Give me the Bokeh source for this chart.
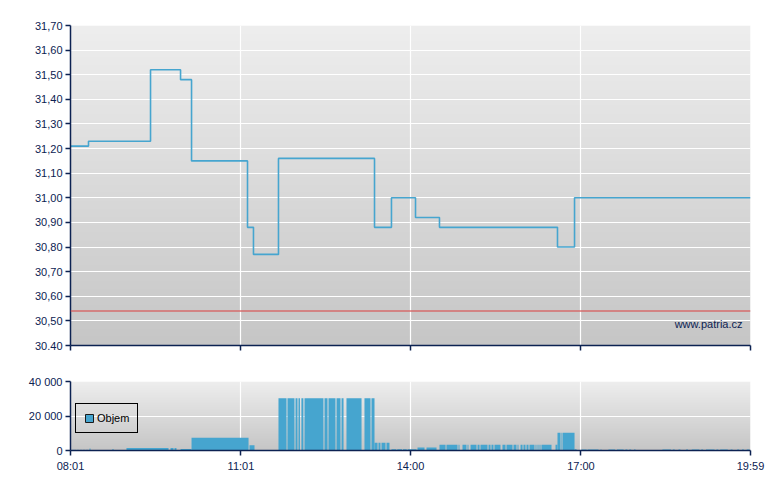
import numpy as np
from bokeh.plotting import figure
from bokeh.layouts import column
from bokeh.models import Range1d, FixedTicker, Span, Label, Legend, LegendItem
from bokeh.embed import file_html
from bokeh.resources import INLINE

# ---- data (time = minutes after 08:01) ----
x_tick_minutes = [0, 180, 359, 539, 718]
x_tick_labels = ["08:01", "11:01", "14:00", "17:00", "19:59"]

price_change_minutes = [0, 19, 84.5, 116.2, 127.8, 186.9, 193.2, 219.6, 321.0,
                        338.9, 364.3, 389.6, 514.2, 532.2, 718]
price_values = [31.21, 31.23, 31.52, 31.48, 31.15, 30.88, 30.77, 31.16, 30.88,
                31.00, 30.92, 30.88, 30.80, 31.00, 31.00]
prev_close = 30.54

price_ticks = [30.4, 30.5, 30.6, 30.7, 30.8, 30.9, 31.0, 31.1, 31.2, 31.3, 31.4, 31.5, 31.6, 31.7]
price_tick_labels = ["30.40", "30,50", "30,60", "30,70", "30,80", "30,90", "31,00",
                     "31,10", "31,20", "31,30", "31,40", "31,50", "31,60", "31,70"]

vol_ticks = [0, 20000, 40000]
vol_tick_labels = ["0", "20 000", "40 000"]

vol_start = [2.1, 4.2, 7.4, 10.6, 13.7, 16.9, 20.1, 44.3,
             59.1, 105.6, 109.8, 116.2, 127.8, 189.0,
             219.6, 229.1, 237.6, 240.7, 243.8, 247.1, 268.2, 272.4, 280.9, 286.2, 291.4, 310.4, 317.8,
             321.0, 325.2, 328.4, 333.7,
             338.9, 345.0, 351.0, 356.0,
             366.4, 375.9,
             389.6, 397.0, 409.7, 413.9, 419.2, 422.4, 429.8, 432.9, 441.4, 444.5, 447.7, 456.1,
             460.4, 467.8, 472.0, 475.2, 478.3, 481.5, 484.7, 491.0, 493.1, 495.2, 497.3, 512.1,
             514.2, 518.4, 520.0,
             532.2,
             539.6, 546.0, 559.6, 568.0, 577.0, 586.0, 590.0, 595.0, 625.0, 636.0, 642.0, 650.0,
             656.0, 666.0, 671.0, 682.0, 686.0, 697.0, 704.0, 709.0, 714.0]
vol_end = [3.2, 5.3, 8.4, 11.6, 14.8, 18.0, 21.1, 45.4,
           103.5, 108.8, 111.9, 127.8, 188.0, 194.3,
           228.1, 236.5, 239.7, 242.3, 245.9, 267.1, 271.4, 279.8, 285.1, 288.3, 307.3, 316.8, 321.0,
           324.2, 327.3, 332.6, 336.8,
           344.0, 350.0, 355.0, 365.3,
           373.8, 386.5,
           396.0, 408.6, 410.7, 418.1, 420.2, 428.7, 431.9, 440.3, 443.5, 446.6, 454.0, 459.3,
           466.7, 470.9, 473.0, 477.3, 480.4, 483.6, 489.9, 492.0, 494.2, 496.3, 507.9, 514.2,
           517.4, 519.5, 532.2,
           534.3,
           545.0, 557.5, 560.7, 575.0, 584.0, 588.0, 592.0, 596.6, 634.0, 638.0, 644.0, 652.0,
           664.0, 668.0, 680.0, 684.0, 694.0, 699.0, 706.0, 711.0, 717.0]
vol_value = [500, 500, 500, 500, 500, 500, 1200, 900,
             1500, 1500, 1500, 800, 7400, 3000,
             30300, 30300, 30300, 30300, 30300, 30300, 30300, 30300, 30300, 30300, 30300, 30300, 30300,
             4500, 4500, 4500, 4500,
             700, 700, 700, 700,
             1700, 1700,
             3400, 3400, 3400, 3400, 3400, 3400, 3400, 3400, 3400, 3400, 3400, 3400,
             3400, 3400, 3400, 3400, 3400, 3400, 3400, 3400, 3400, 3400, 3400, 3400,
             10300, 10300, 10300,
             700,
             600, 600, 600, 600, 600, 600, 600, 600, 600, 600, 600, 600,
             600, 600, 600, 600, 600, 600, 600, 600, 600]

# ---- style ----
FONT = "Liberation Sans"
NAVY = "#0c2252"
BLUE = "#46a5cf"


def gradient_image(top=238, bottom=198, n=256):
    vals = np.linspace(bottom, top, n).astype(np.uint8)
    img = np.empty((n, 1), dtype=np.uint32)
    view = img.view(dtype=np.uint8).reshape((n, 1, 4))
    view[:, 0, 0] = vals
    view[:, 0, 1] = vals
    view[:, 0, 2] = vals
    view[:, 0, 3] = 255
    return img


def style_axes(p):
    for ax in (p.xaxis[0], p.yaxis[0]):
        ax.axis_line_color = NAVY
        ax.axis_line_width = 1.5
        ax.major_tick_line_color = NAVY
        ax.major_tick_line_width = 1.5
        ax.major_tick_out = 5
        ax.major_tick_in = 0
        ax.minor_tick_line_color = None
        ax.major_label_text_font = FONT
        ax.major_label_text_font_size = "11px"
        ax.major_label_text_color = NAVY
    p.yaxis[0].major_label_standoff = 3
    p.xaxis[0].major_label_standoff = 4
    p.xgrid.grid_line_color = "white"
    p.ygrid.grid_line_color = "white"
    p.xgrid.grid_line_width = 1.2
    p.ygrid.grid_line_width = 1.2
    p.outline_line_color = None


x_lo, x_hi = x_tick_minutes[0], x_tick_minutes[-1]

# ---- price figure ----
p = figure(frame_width=680, frame_height=320, output_backend="svg", toolbar_location=None,
           x_range=Range1d(x_lo, x_hi), y_range=Range1d(price_ticks[0], price_ticks[-1]),
           min_border_left=70, min_border_right=22, min_border_top=25, min_border_bottom=26)
p.image_rgba(image=[gradient_image()], x=x_lo, y=price_ticks[0], dw=x_hi - x_lo,
             dh=price_ticks[-1] - price_ticks[0], level="image")
style_axes(p)
p.xaxis.ticker = FixedTicker(ticks=x_tick_minutes)
p.xaxis.major_label_text_alpha = 0
p.xaxis.major_label_standoff = 0
p.yaxis.ticker = FixedTicker(ticks=price_ticks)
p.yaxis.major_label_overrides = dict(zip(price_ticks, price_tick_labels))

p.add_layout(Span(location=prev_close, dimension="width", line_color="#d65a5a",
                  line_width=1.6, line_alpha=0.85))
p.step(price_change_minutes, price_values, mode="after", line_color=BLUE, line_width=1.6)

p.add_layout(Label(x=x_hi, y=price_ticks[0], x_offset=-8, y_offset=16, text="www.patria.cz",
                   text_align="right", text_baseline="bottom", text_font=FONT,
                   text_font_size="11px", text_color=NAVY))

# ---- volume figure ----
v = figure(frame_width=680, frame_height=69, output_backend="svg", toolbar_location=None,
           x_range=Range1d(x_lo, x_hi), y_range=Range1d(vol_ticks[0], vol_ticks[-1]),
           min_border_left=70, min_border_right=22, min_border_top=10, min_border_bottom=30)
v.image_rgba(image=[gradient_image()], x=x_lo, y=vol_ticks[0], dw=x_hi - x_lo,
             dh=vol_ticks[-1] - vol_ticks[0], level="image")
style_axes(v)
v.xaxis.ticker = FixedTicker(ticks=x_tick_minutes)
v.xaxis.major_label_overrides = dict(zip(x_tick_minutes, x_tick_labels))
v.yaxis.ticker = FixedTicker(ticks=vol_ticks)
v.yaxis.major_label_overrides = dict(zip(vol_ticks, vol_tick_labels))

v.quad(left=vol_start, right=vol_end, bottom=0, top=vol_value, fill_color=BLUE, line_color=None)
# hidden twin renderer used only for the legend swatch (dark outline)
legend_r = v.quad(left=vol_start, right=vol_end, bottom=0, top=vol_value, fill_color=BLUE,
                  line_color="#1a1a1a", line_width=1, visible=False)
legend = Legend(items=[LegendItem(label="Objem", renderers=[legend_r])], location=(5, 17),
                background_fill_alpha=0, border_line_color="black", border_line_width=1,
                border_line_alpha=1, padding=8, margin=0, glyph_width=10, glyph_height=10,
                label_standoff=3, label_height=12, label_text_font=FONT,
                label_text_font_size="11px", label_text_color="black", inactive_fill_alpha=0)
v.add_layout(legend)

layout = column(p, v, spacing=0)
open("out.html", "w").write(file_html(layout, INLINE))
